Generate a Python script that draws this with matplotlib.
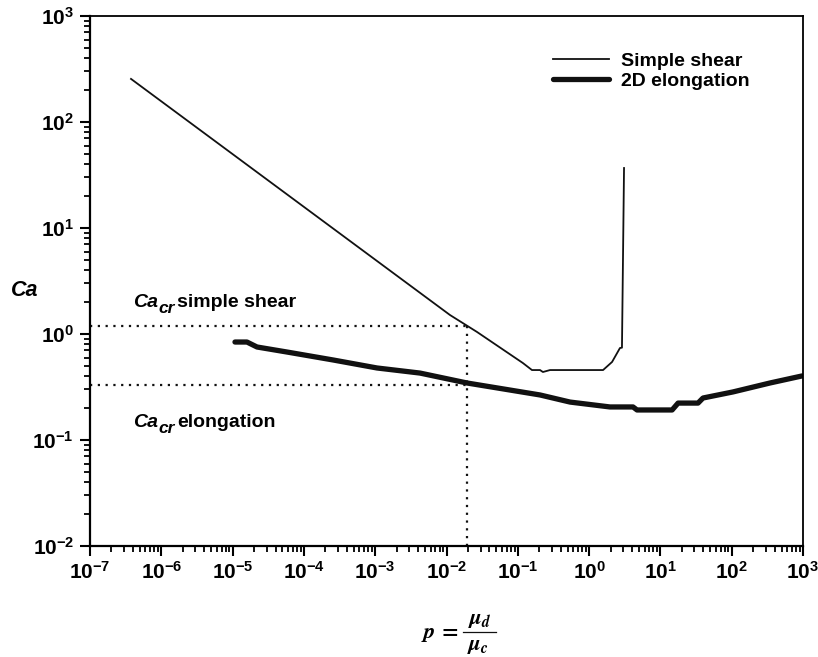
import numpy as np
import matplotlib
matplotlib.use("Agg")
import matplotlib.pyplot as plt
from matplotlib.lines import Line2D
from matplotlib.ticker import LogLocator, LogFormatterMathtext, NullFormatter

plt.rcParams['font.family'] = ['Liberation Sans', 'DejaVu Sans']
plt.rcParams['font.weight'] = 'bold'
plt.rcParams['mathtext.fontset'] = 'custom'
plt.rcParams['mathtext.rm'] = 'Liberation Sans:bold'
plt.rcParams['mathtext.it'] = 'Liberation Sans:italic:bold'
plt.rcParams['mathtext.bf'] = 'Liberation Sans:bold'

# ---- data ----
shear_p = [3.76e-7, 1.12e-2, 2.68e-2, 0.118, 0.158, 0.205, 0.225, 0.283, 1.57, 2.10, 2.71, 2.89, 3.09]
shear_ca = [255, 1.51, 1.045, 0.532, 0.457, 0.457, 0.438, 0.457, 0.457, 0.545, 0.738, 0.743, 36.8]

elong_p = [1.08e-5, 1.59e-5, 2.2e-5, 5.8e-5, 2.56e-4, 1.06e-3, 4.25e-3, 1.94e-2, 0.205, 0.54,
           1.96, 4.13, 4.7, 14.6, 17.7, 33.7, 39.6, 104, 344, 968]
elong_ca = [0.84, 0.84, 0.754, 0.676, 0.569, 0.478, 0.428, 0.345, 0.266, 0.228,
            0.205, 0.205, 0.192, 0.192, 0.223, 0.223, 0.249, 0.284, 0.345, 0.402]

p_crit = 0.0194
ca_cr_shear = 1.19
ca_cr_elong = 0.33

fig = plt.figure(figsize=(8.18, 6.57), dpi=100)
ax = fig.add_axes([90/818, 1-546/657, (803-90)/818, (546-16)/657])

ax.plot(shear_p, shear_ca, color='#111111', lw=1.3, label='Simple shear', solid_joinstyle='round')
ax.plot(elong_p, elong_ca, color='#111111', lw=3.8, label='2D elongation',
        solid_capstyle='round', solid_joinstyle='round')

dot = dict(color='#111111', lw=1.6, linestyle=(0, (1, 2.5)))
ax.plot([1e-7, p_crit], [ca_cr_shear, ca_cr_shear], **dot)
ax.plot([1e-7, p_crit], [ca_cr_elong, ca_cr_elong], **dot)
ax.plot([p_crit, p_crit], [1e-2, ca_cr_shear], **dot)

ax.set_xscale('log')
ax.set_yscale('log')
ax.set_xlim(1e-7, 1e3)
ax.set_ylim(1e-2, 1e3)

for axis in (ax.xaxis, ax.yaxis):
    axis.set_major_locator(LogLocator(base=10, numticks=30))
    axis.set_minor_locator(LogLocator(base=10, subs=np.arange(2, 10), numticks=100))
    axis.set_major_formatter(LogFormatterMathtext())
    axis.set_minor_formatter(NullFormatter())

ax.tick_params(which='major', direction='out', length=7.5, width=1.5, labelsize=15,
               top=False, right=False)
ax.tick_params(which='minor', direction='out', length=4, width=1.3, top=False, right=False)
ax.tick_params(axis='x', which='major', pad=3)
ax.tick_params(axis='y', which='major', pad=4)
for s in ax.spines.values():
    s.set_linewidth(1.3)
ax.spines['left'].set_linewidth(1.6)
ax.spines['bottom'].set_linewidth(1.6)


def cacr_label(x, y, rest):
    ax.annotate('Ca', xy=(x, y), xycoords='data', fontsize=14, fontweight='bold',
                fontstyle='italic', va='baseline', ha='left')
    ax.annotate('cr', xy=(x, y), xycoords='data', xytext=(26, -6), textcoords='offset pixels',
                fontsize=12.5, fontweight='bold', fontstyle='italic', va='baseline', ha='left')
    ax.annotate(rest, xy=(x, y), xycoords='data', xytext=(44, 0), textcoords='offset pixels',
                fontsize=14, fontweight='bold', va='baseline', ha='left')


cacr_label(4e-7, 1.8, 'simple shear')
cacr_label(4e-7, 0.133, 'elongation')

fig.text(25/818, 1-291/657, 'Ca', fontsize=15.5, fontweight='bold', fontstyle='italic',
         ha='center', va='center')

# x label: p = mu_d / mu_c
fig.text(458/818, 1-634/657, r'$p\,=$', fontsize=16, math_fontfamily='stix',
         ha='right', va='center')
fig.text(480/818, 1-619/657, r'$\mu_d$', fontsize=16, math_fontfamily='stix',
         ha='center', va='center')
fig.text(478/818, 1-646/657, r'$\mu_c$', fontsize=16, math_fontfamily='stix',
         ha='center', va='center')
fig.add_artist(Line2D([463/818, 496/818], [1-632/657, 1-632/657], color='#111111', lw=0.9,
                      transform=fig.transFigure))

leg = ax.legend(loc='upper left', bbox_to_anchor=(0.649, 0.932), frameon=False, fontsize=14,
                handlelength=2.9, handletextpad=0.6, labelspacing=0.12, borderpad=0, borderaxespad=0)

fig.savefig('out.png', dpi=100)
